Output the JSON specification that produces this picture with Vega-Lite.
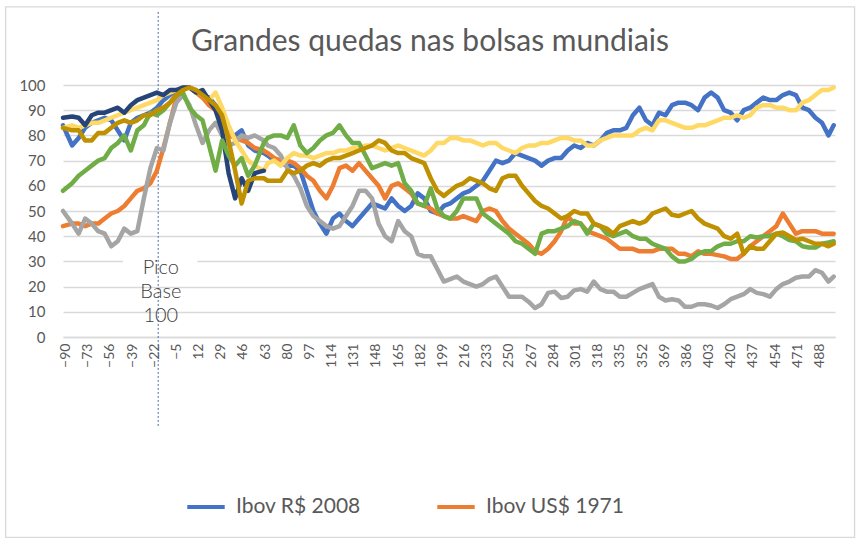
{
  "$schema": "https://vega.github.io/schema/vega-lite/v6.json",
  "width": 772,
  "height": 252,
  "autosize": {"type": "none"},
  "padding": {"left": 63, "top": 85, "right": 26, "bottom": 203},
  "background": "white",
  "title": {
    "text": "Grandes quedas nas bolsas mundiais",
    "font": "Lato",
    "fontSize": 30,
    "fontWeight": "normal",
    "color": "#595959",
    "anchor": "middle",
    "baseline": "alphabetic",
    "dx": -19,
    "offset": -75
  },
  "config": {
    "view": {"stroke": null},
    "font": "Lato"
  },
  "encoding": {
    "x": {
      "field": "t",
      "type": "quantitative",
      "title": null,
      "scale": {"domain": [-92, 500], "nice": false, "zero": false},
      "axis": {
        "values": [-90, -73, -56, -39, -22, -5, 12, 29, 46, 63, 80, 97, 114, 131, 148, 165, 182, 199, 216, 233, 250, 267, 284, 301, 318, 335, 352, 369, 386, 403, 420, 437, 454, 471, 488],
        "labelAngle": -90,
        "labelFontSize": 14,
        "labelColor": "#595959",
        "labelPadding": 6,
        "ticks": false,
        "grid": false,
        "domainColor": "#D9D9D9",
        "domainWidth": 1.3,
        "labelFlush": false,
        "labelOverlap": false
      }
    },
    "y": {
      "field": "v",
      "type": "quantitative",
      "title": null,
      "scale": {"domain": [0, 100], "nice": false},
      "axis": {
        "values": [0, 10, 20, 30, 40, 50, 60, 70, 80, 90, 100],
        "labelFontSize": 15,
        "labelColor": "#595959",
        "labelPadding": 18,
        "ticks": false,
        "domain": false,
        "gridColor": "#D9D9D9",
        "gridWidth": 1.3
      }
    }
  },
  "layer": [
    {
      "data": {"values": [{"t": -136, "t2": 515, "v": 131, "v2": -79.5}]},
      "mark": {"type": "rect", "fill": "transparent", "stroke": "#D9D9D9", "strokeWidth": 1.3},
      "encoding": {"x2": {"field": "t2"}, "y2": {"field": "v2"}}
    },
    {
      "data": {"values": [{"t": -46, "t2": 11, "v": 30}]},
      "mark": {"type": "rule", "color": "white", "strokeWidth": 3},
      "encoding": {"x2": {"field": "t2"}}
    },
    {
      "data": {"values": [{"t": -19, "v": 129, "v2": -36}]},
      "mark": {"type": "rule", "color": "#4A6AA8", "strokeWidth": 1, "strokeDash": [2, 2]},
      "encoding": {"y2": {"field": "v2"}}
    },
    {
      "data": {"values": [
        {"t": -17, "v": 27.4, "txt": "Pico"},
        {"t": -17, "v": 17.9, "txt": "Base"},
        {"t": -17, "v": 8.3, "txt": "100"}
      ]},
      "mark": {"type": "text", "fontSize": 20, "color": "#404040", "align": "center", "baseline": "middle", "font": "Lato", "fontWeight": 300},
      "encoding": {"text": {"field": "txt"}}
    },
    {
      "data": {"values": [
        {"t": -92, "Ibov R$ 2008": 84, "Ibov US$ 1971": 44, "Série 3": 50, "Série 4": 83, "Série 5": 87, "Série 6": 58, "Série 7": 83},
        {"t": -85, "Ibov R$ 2008": 76, "Ibov US$ 1971": 45, "Série 3": 45, "Série 4": 84, "Série 5": 87.5, "Série 6": 61, "Série 7": 82},
        {"t": -80, "Ibov R$ 2008": 79, "Ibov US$ 1971": 45, "Série 3": 41, "Série 4": 83, "Série 5": 87, "Série 6": 64, "Série 7": 82},
        {"t": -75, "Ibov R$ 2008": 83, "Ibov US$ 1971": 44, "Série 3": 47, "Série 4": 84, "Série 5": 84, "Série 6": 66, "Série 7": 78},
        {"t": -70, "Ibov R$ 2008": 85, "Ibov US$ 1971": 45, "Série 3": 45, "Série 4": 85, "Série 5": 88, "Série 6": 68, "Série 7": 78},
        {"t": -65, "Ibov R$ 2008": 86, "Ibov US$ 1971": 45, "Série 3": 42, "Série 4": 85, "Série 5": 89, "Série 6": 70, "Série 7": 81},
        {"t": -60, "Ibov R$ 2008": 87, "Ibov US$ 1971": 47, "Série 3": 41, "Série 4": 86, "Série 5": 89, "Série 6": 71, "Série 7": 81},
        {"t": -55, "Ibov R$ 2008": 86, "Ibov US$ 1971": 49, "Série 3": 36, "Série 4": 87, "Série 5": 90, "Série 6": 75, "Série 7": 83},
        {"t": -50, "Ibov R$ 2008": 82, "Ibov US$ 1971": 50, "Série 3": 38, "Série 4": 88, "Série 5": 91, "Série 6": 77, "Série 7": 85},
        {"t": -45, "Ibov R$ 2008": 78, "Ibov US$ 1971": 52, "Série 3": 43, "Série 4": 89, "Série 5": 89, "Série 6": 80, "Série 7": 86},
        {"t": -40, "Ibov R$ 2008": 85, "Ibov US$ 1971": 55, "Série 3": 41, "Série 4": 90, "Série 5": 92, "Série 6": 74, "Série 7": 85},
        {"t": -35, "Ibov R$ 2008": 87, "Ibov US$ 1971": 58, "Série 3": 42, "Série 4": 91, "Série 5": 94, "Série 6": 82, "Série 7": 86},
        {"t": -30, "Ibov R$ 2008": 88, "Ibov US$ 1971": 59, "Série 3": 55, "Série 4": 92, "Série 5": 95, "Série 6": 84, "Série 7": 88},
        {"t": -25, "Ibov R$ 2008": 89, "Ibov US$ 1971": 61, "Série 3": 67, "Série 4": 93, "Série 5": 96, "Série 6": 89, "Série 7": 88},
        {"t": -20, "Ibov R$ 2008": 91, "Ibov US$ 1971": 66, "Série 3": 75, "Série 4": 94, "Série 5": 97, "Série 6": 88, "Série 7": 90},
        {"t": -15, "Ibov R$ 2008": 94, "Ibov US$ 1971": 75, "Série 3": 74, "Série 4": 96, "Série 5": 96, "Série 6": 90, "Série 7": 91},
        {"t": -10, "Ibov R$ 2008": 96, "Ibov US$ 1971": 85, "Série 3": 85, "Série 4": 97, "Série 5": 98, "Série 6": 93, "Série 7": 93},
        {"t": -5, "Ibov R$ 2008": 98, "Ibov US$ 1971": 95, "Série 3": 93, "Série 4": 98, "Série 5": 98, "Série 6": 96, "Série 7": 96},
        {"t": 0, "Ibov R$ 2008": 99, "Ibov US$ 1971": 99, "Série 3": 96, "Série 4": 99, "Série 5": 99, "Série 6": 97, "Série 7": 98},
        {"t": 5, "Ibov R$ 2008": 99, "Ibov US$ 1971": 99, "Série 3": 92, "Série 4": 99, "Série 5": 99, "Série 6": 91, "Série 7": 99},
        {"t": 10, "Ibov R$ 2008": 98, "Ibov US$ 1971": 97, "Série 3": 84, "Série 4": 98, "Série 5": 97, "Série 6": 88, "Série 7": 98},
        {"t": 15, "Ibov R$ 2008": 96, "Ibov US$ 1971": 95, "Série 3": 77, "Série 4": 96, "Série 5": 98, "Série 6": 86, "Série 7": 96},
        {"t": 20, "Ibov R$ 2008": 95, "Ibov US$ 1971": 92, "Série 3": 82, "Série 4": 94, "Série 5": 94, "Série 6": 76, "Série 7": 94},
        {"t": 25, "Ibov R$ 2008": 92, "Ibov US$ 1971": 90, "Série 3": 85, "Série 4": 97, "Série 5": 90, "Série 6": 66, "Série 7": 92},
        {"t": 30, "Ibov R$ 2008": 87, "Ibov US$ 1971": 84, "Série 3": 80, "Série 4": 91, "Série 5": 82, "Série 6": 78, "Série 7": 88},
        {"t": 35, "Ibov R$ 2008": 80, "Ibov US$ 1971": 80, "Série 3": 76, "Série 4": 84, "Série 5": 65, "Série 6": 72, "Série 7": 78},
        {"t": 40, "Ibov R$ 2008": 80, "Ibov US$ 1971": 79, "Série 3": 77, "Série 4": 78, "Série 5": 55, "Série 6": 68, "Série 7": 66},
        {"t": 45, "Ibov R$ 2008": 82, "Ibov US$ 1971": 78, "Série 3": 80, "Série 4": 74, "Série 5": 63, "Série 6": 71, "Série 7": 53},
        {"t": 50, "Ibov R$ 2008": 76, "Ibov US$ 1971": 77, "Série 3": 79, "Série 4": 70, "Série 5": 58, "Série 6": 64, "Série 7": 62},
        {"t": 55, "Ibov R$ 2008": 74, "Ibov US$ 1971": 75, "Série 3": 80, "Série 4": 68, "Série 5": 65, "Série 6": 68, "Série 7": 63},
        {"t": 62, "Ibov R$ 2008": 73, "Ibov US$ 1971": 74, "Série 3": 78, "Série 4": 66, "Série 5": 66, "Série 6": 77, "Série 7": 63},
        {"t": 65, "Ibov R$ 2008": 72, "Ibov US$ 1971": 73, "Série 3": 76, "Série 4": 69, "Série 6": 79, "Série 7": 62},
        {"t": 70, "Ibov R$ 2008": 70, "Ibov US$ 1971": 71, "Série 3": 75, "Série 4": 70, "Série 6": 80, "Série 7": 62},
        {"t": 75, "Ibov R$ 2008": 69, "Ibov US$ 1971": 70, "Série 3": 72, "Série 4": 68, "Série 6": 80, "Série 7": 62},
        {"t": 80, "Ibov R$ 2008": 68, "Ibov US$ 1971": 70, "Série 3": 67, "Série 4": 71, "Série 6": 79, "Série 7": 66},
        {"t": 85, "Ibov R$ 2008": 68, "Ibov US$ 1971": 69, "Série 3": 64, "Série 4": 73, "Série 6": 84, "Série 7": 65},
        {"t": 90, "Ibov R$ 2008": 66, "Ibov US$ 1971": 67, "Série 3": 59, "Série 4": 72, "Série 6": 76, "Série 7": 66},
        {"t": 95, "Ibov R$ 2008": 58, "Ibov US$ 1971": 64, "Série 3": 52, "Série 4": 72, "Série 6": 73, "Série 7": 68},
        {"t": 100, "Ibov R$ 2008": 50, "Ibov US$ 1971": 62, "Série 3": 48, "Série 4": 71, "Série 6": 75, "Série 7": 69},
        {"t": 105, "Ibov R$ 2008": 45, "Ibov US$ 1971": 58, "Série 3": 46, "Série 4": 72, "Série 6": 78, "Série 7": 68},
        {"t": 110, "Ibov R$ 2008": 41, "Ibov US$ 1971": 55, "Série 3": 44, "Série 4": 73, "Série 6": 80, "Série 7": 70},
        {"t": 115, "Ibov R$ 2008": 47, "Ibov US$ 1971": 60, "Série 3": 43, "Série 4": 73, "Série 6": 81, "Série 7": 71},
        {"t": 120, "Ibov R$ 2008": 49, "Ibov US$ 1971": 67, "Série 3": 44, "Série 4": 74, "Série 6": 84, "Série 7": 71},
        {"t": 125, "Ibov R$ 2008": 46, "Ibov US$ 1971": 68, "Série 3": 48, "Série 4": 74, "Série 6": 80, "Série 7": 72},
        {"t": 130, "Ibov R$ 2008": 44, "Ibov US$ 1971": 66, "Série 3": 52, "Série 4": 75, "Série 6": 77, "Série 7": 73},
        {"t": 135, "Ibov R$ 2008": 47, "Ibov US$ 1971": 69, "Série 3": 58, "Série 4": 75, "Série 6": 77, "Série 7": 74},
        {"t": 140, "Ibov R$ 2008": 50, "Ibov US$ 1971": 66, "Série 3": 58, "Série 4": 76, "Série 6": 72, "Série 7": 75},
        {"t": 145, "Ibov R$ 2008": 53, "Ibov US$ 1971": 63, "Série 3": 55, "Série 4": 76, "Série 6": 67, "Série 7": 76},
        {"t": 150, "Ibov R$ 2008": 52, "Ibov US$ 1971": 60, "Série 3": 45, "Série 4": 75, "Série 6": 68, "Série 7": 78},
        {"t": 155, "Ibov R$ 2008": 51, "Ibov US$ 1971": 55, "Série 3": 40, "Série 4": 74, "Série 6": 69, "Série 7": 77},
        {"t": 160, "Ibov R$ 2008": 55, "Ibov US$ 1971": 60, "Série 3": 38, "Série 4": 75, "Série 6": 68, "Série 7": 74},
        {"t": 165, "Ibov R$ 2008": 52, "Ibov US$ 1971": 61, "Série 3": 46, "Série 4": 76, "Série 6": 69, "Série 7": 73},
        {"t": 170, "Ibov R$ 2008": 50, "Ibov US$ 1971": 59, "Série 3": 42, "Série 4": 75, "Série 6": 61, "Série 7": 73},
        {"t": 175, "Ibov R$ 2008": 52, "Ibov US$ 1971": 57, "Série 3": 40, "Série 4": 74, "Série 6": 58, "Série 7": 71},
        {"t": 180, "Ibov R$ 2008": 57, "Ibov US$ 1971": 53, "Série 3": 33, "Série 4": 73, "Série 6": 53, "Série 7": 70},
        {"t": 185, "Ibov R$ 2008": 55, "Ibov US$ 1971": 52, "Série 3": 32, "Série 4": 72, "Série 6": 52, "Série 7": 69},
        {"t": 190, "Ibov R$ 2008": 50, "Ibov US$ 1971": 51, "Série 3": 32, "Série 4": 74, "Série 6": 59, "Série 7": 63},
        {"t": 195, "Ibov R$ 2008": 49, "Ibov US$ 1971": 49, "Série 3": 27, "Série 4": 77, "Série 6": 51, "Série 7": 58},
        {"t": 200, "Ibov R$ 2008": 52, "Ibov US$ 1971": 48, "Série 3": 22, "Série 4": 77, "Série 6": 48, "Série 7": 56},
        {"t": 205, "Ibov R$ 2008": 53, "Ibov US$ 1971": 47, "Série 3": 23, "Série 4": 79, "Série 6": 47, "Série 7": 58},
        {"t": 210, "Ibov R$ 2008": 55, "Ibov US$ 1971": 47, "Série 3": 24, "Série 4": 79, "Série 6": 50, "Série 7": 60},
        {"t": 215, "Ibov R$ 2008": 57, "Ibov US$ 1971": 48, "Série 3": 22, "Série 4": 78, "Série 6": 55, "Série 7": 61},
        {"t": 220, "Ibov R$ 2008": 58, "Ibov US$ 1971": 47, "Série 3": 21, "Série 4": 78, "Série 6": 55, "Série 7": 63},
        {"t": 225, "Ibov R$ 2008": 60, "Ibov US$ 1971": 46, "Série 3": 20, "Série 4": 77, "Série 6": 55, "Série 7": 62},
        {"t": 230, "Ibov R$ 2008": 62, "Ibov US$ 1971": 50, "Série 3": 21, "Série 4": 76, "Série 6": 49, "Série 7": 61},
        {"t": 235, "Ibov R$ 2008": 66, "Ibov US$ 1971": 51, "Série 3": 23, "Série 4": 77, "Série 6": 47, "Série 7": 59},
        {"t": 240, "Ibov R$ 2008": 70, "Ibov US$ 1971": 50, "Série 3": 24, "Série 4": 77, "Série 6": 45, "Série 7": 58},
        {"t": 245, "Ibov R$ 2008": 69, "Ibov US$ 1971": 46, "Série 3": 20, "Série 4": 75, "Série 6": 43, "Série 7": 63},
        {"t": 250, "Ibov R$ 2008": 70, "Ibov US$ 1971": 43, "Série 3": 16, "Série 4": 74, "Série 6": 41, "Série 7": 64},
        {"t": 255, "Ibov R$ 2008": 73, "Ibov US$ 1971": 41, "Série 3": 16, "Série 4": 73, "Série 6": 38, "Série 7": 64},
        {"t": 260, "Ibov R$ 2008": 72, "Ibov US$ 1971": 39, "Série 3": 16, "Série 4": 75, "Série 6": 37, "Série 7": 60},
        {"t": 265, "Ibov R$ 2008": 71, "Ibov US$ 1971": 37, "Série 3": 14, "Série 4": 76, "Série 6": 35, "Série 7": 57},
        {"t": 270, "Ibov R$ 2008": 70, "Ibov US$ 1971": 34, "Série 3": 11.5, "Série 4": 76, "Série 6": 33, "Série 7": 54},
        {"t": 275, "Ibov R$ 2008": 68, "Ibov US$ 1971": 33, "Série 3": 13, "Série 4": 77, "Série 6": 41, "Série 7": 52},
        {"t": 280, "Ibov R$ 2008": 70, "Ibov US$ 1971": 35, "Série 3": 17.5, "Série 4": 77, "Série 6": 42, "Série 7": 51},
        {"t": 285, "Ibov R$ 2008": 71, "Ibov US$ 1971": 38, "Série 3": 18, "Série 4": 78, "Série 6": 42, "Série 7": 49},
        {"t": 290, "Ibov R$ 2008": 71, "Ibov US$ 1971": 42, "Série 3": 15.5, "Série 4": 79, "Série 6": 43, "Série 7": 47},
        {"t": 295, "Ibov R$ 2008": 74, "Ibov US$ 1971": 48, "Série 3": 16, "Série 4": 79, "Série 6": 44, "Série 7": 48},
        {"t": 300, "Ibov R$ 2008": 76, "Ibov US$ 1971": 45, "Série 3": 18.5, "Série 4": 78, "Série 6": 46, "Série 7": 50},
        {"t": 305, "Ibov R$ 2008": 75, "Ibov US$ 1971": 45, "Série 3": 19, "Série 4": 78, "Série 6": 45, "Série 7": 49},
        {"t": 310, "Ibov R$ 2008": 77, "Ibov US$ 1971": 42, "Série 3": 18, "Série 4": 76, "Série 6": 41, "Série 7": 49},
        {"t": 315, "Ibov R$ 2008": 76, "Ibov US$ 1971": 41, "Série 3": 22, "Série 4": 76, "Série 6": 45, "Série 7": 45},
        {"t": 320, "Ibov R$ 2008": 78, "Ibov US$ 1971": 40, "Série 3": 19, "Série 4": 78, "Série 6": 44, "Série 7": 44},
        {"t": 325, "Ibov R$ 2008": 81, "Ibov US$ 1971": 39, "Série 3": 18, "Série 4": 79, "Série 6": 41, "Série 7": 43},
        {"t": 330, "Ibov R$ 2008": 82, "Ibov US$ 1971": 37, "Série 3": 18, "Série 4": 80, "Série 6": 40, "Série 7": 41},
        {"t": 335, "Ibov R$ 2008": 82, "Ibov US$ 1971": 35, "Série 3": 16, "Série 4": 80, "Série 6": 41, "Série 7": 44},
        {"t": 340, "Ibov R$ 2008": 83, "Ibov US$ 1971": 35, "Série 3": 16, "Série 4": 80, "Série 6": 42, "Série 7": 45},
        {"t": 345, "Ibov R$ 2008": 88, "Ibov US$ 1971": 35, "Série 3": 17.5, "Série 4": 80, "Série 6": 40, "Série 7": 46},
        {"t": 350, "Ibov R$ 2008": 91, "Ibov US$ 1971": 34, "Série 3": 19, "Série 4": 82, "Série 6": 39, "Série 7": 45},
        {"t": 355, "Ibov R$ 2008": 86, "Ibov US$ 1971": 34, "Série 3": 20, "Série 4": 83, "Série 6": 39, "Série 7": 46},
        {"t": 360, "Ibov R$ 2008": 84, "Ibov US$ 1971": 34, "Série 3": 21, "Série 4": 82, "Série 6": 37, "Série 7": 49},
        {"t": 365, "Ibov R$ 2008": 89, "Ibov US$ 1971": 35, "Série 3": 16, "Série 4": 86, "Série 6": 36, "Série 7": 50},
        {"t": 370, "Ibov R$ 2008": 88, "Ibov US$ 1971": 35, "Série 3": 14.5, "Série 4": 86, "Série 6": 35, "Série 7": 51},
        {"t": 375, "Ibov R$ 2008": 92, "Ibov US$ 1971": 35, "Série 3": 15, "Série 4": 85, "Série 6": 32, "Série 7": 48.5},
        {"t": 380, "Ibov R$ 2008": 93, "Ibov US$ 1971": 33, "Série 3": 14.5, "Série 4": 84, "Série 6": 30, "Série 7": 48},
        {"t": 385, "Ibov R$ 2008": 93, "Ibov US$ 1971": 33, "Série 3": 12, "Série 4": 83, "Série 6": 30, "Série 7": 49},
        {"t": 390, "Ibov R$ 2008": 92, "Ibov US$ 1971": 32, "Série 3": 12, "Série 4": 83, "Série 6": 31, "Série 7": 50},
        {"t": 395, "Ibov R$ 2008": 90, "Ibov US$ 1971": 34, "Série 3": 13, "Série 4": 84, "Série 6": 33, "Série 7": 47},
        {"t": 400, "Ibov R$ 2008": 95, "Ibov US$ 1971": 33, "Série 3": 13, "Série 4": 84, "Série 6": 34, "Série 7": 45},
        {"t": 405, "Ibov R$ 2008": 97, "Ibov US$ 1971": 33, "Série 3": 12.5, "Série 4": 85, "Série 6": 34, "Série 7": 44},
        {"t": 410, "Ibov R$ 2008": 95, "Ibov US$ 1971": 32.5, "Série 3": 11.5, "Série 4": 86, "Série 6": 36, "Série 7": 43},
        {"t": 415, "Ibov R$ 2008": 90, "Ibov US$ 1971": 32, "Série 3": 13, "Série 4": 87, "Série 6": 37, "Série 7": 40},
        {"t": 420, "Ibov R$ 2008": 89, "Ibov US$ 1971": 31, "Série 3": 15, "Série 4": 87, "Série 6": 37, "Série 7": 39},
        {"t": 425, "Ibov R$ 2008": 86, "Ibov US$ 1971": 31, "Série 3": 16, "Série 4": 88, "Série 6": 38, "Série 7": 41},
        {"t": 430, "Ibov R$ 2008": 90, "Ibov US$ 1971": 33, "Série 3": 17, "Série 4": 87, "Série 6": 38, "Série 7": 33},
        {"t": 435, "Ibov R$ 2008": 91, "Ibov US$ 1971": 36, "Série 3": 19, "Série 4": 88, "Série 6": 40, "Série 7": 36},
        {"t": 440, "Ibov R$ 2008": 93, "Ibov US$ 1971": 38, "Série 3": 17.5, "Série 4": 91, "Série 6": 39.5, "Série 7": 35},
        {"t": 445, "Ibov R$ 2008": 95, "Ibov US$ 1971": 40, "Série 3": 17, "Série 4": 92, "Série 6": 40, "Série 7": 35},
        {"t": 450, "Ibov R$ 2008": 94, "Ibov US$ 1971": 42, "Série 3": 16, "Série 4": 92, "Série 6": 40, "Série 7": 38},
        {"t": 455, "Ibov R$ 2008": 94, "Ibov US$ 1971": 44, "Série 3": 19, "Série 4": 91, "Série 6": 41, "Série 7": 41},
        {"t": 460, "Ibov R$ 2008": 96, "Ibov US$ 1971": 49, "Série 3": 21, "Série 4": 91, "Série 6": 40, "Série 7": 41.5},
        {"t": 465, "Ibov R$ 2008": 97, "Ibov US$ 1971": 45, "Série 3": 22, "Série 4": 90, "Série 6": 38.5, "Série 7": 40},
        {"t": 470, "Ibov R$ 2008": 96, "Ibov US$ 1971": 41, "Série 3": 23.5, "Série 4": 90, "Série 6": 38, "Série 7": 38.5},
        {"t": 475, "Ibov R$ 2008": 91, "Ibov US$ 1971": 42, "Série 3": 24, "Série 4": 93, "Série 6": 36, "Série 7": 39},
        {"t": 480, "Ibov R$ 2008": 90, "Ibov US$ 1971": 42, "Série 3": 24, "Série 4": 94, "Série 6": 35.5, "Série 7": 38},
        {"t": 485, "Ibov R$ 2008": 87, "Ibov US$ 1971": 42, "Série 3": 26.5, "Série 4": 96, "Série 6": 35.5, "Série 7": 37},
        {"t": 490, "Ibov R$ 2008": 85, "Ibov US$ 1971": 41, "Série 3": 25.5, "Série 4": 98, "Série 6": 37, "Série 7": 37},
        {"t": 495, "Ibov R$ 2008": 80, "Ibov US$ 1971": 41, "Série 3": 22, "Série 4": 98, "Série 6": 37.5, "Série 7": 36},
        {"t": 499, "Ibov R$ 2008": 84, "Ibov US$ 1971": 41, "Série 3": 24, "Série 4": 99, "Série 6": 38, "Série 7": 37}
      ]},
      "transform": [
        {"fold": ["Ibov R$ 2008", "Ibov US$ 1971", "Série 3", "Série 4", "Série 5", "Série 6", "Série 7"], "as": ["serie", "v"]},
        {"filter": "isValid(datum.v)"}
      ],
      "mark": {"type": "line", "strokeWidth": 4.5, "strokeJoin": "round", "strokeCap": "round"},
      "encoding": {
        "color": {
          "field": "serie",
          "type": "nominal",
          "sort": null,
          "scale": {
            "domain": ["Ibov R$ 2008", "Ibov US$ 1971", "Série 3", "Série 4", "Série 5", "Série 6", "Série 7"],
            "range": ["#4472C4", "#ED7D31", "#A5A5A5", "#FFD966", "#264478", "#70AD47", "#BF9000"]
          },
          "legend": {
            "values": ["Ibov R$ 2008", "Ibov US$ 1971"],
            "title": null,
            "orient": "none",
            "direction": "horizontal",
            "legendX": 122,
            "legendY": 401,
            "symbolType": "stroke",
            "symbolSize": 1400,
            "symbolStrokeWidth": 4,
            "labelFontSize": 21,
            "labelColor": "#595959",
            "labelOffset": 9,
            "columnPadding": 68,
            "labelFont": "Lato"
          }
        }
      }
    }
  ]
}
